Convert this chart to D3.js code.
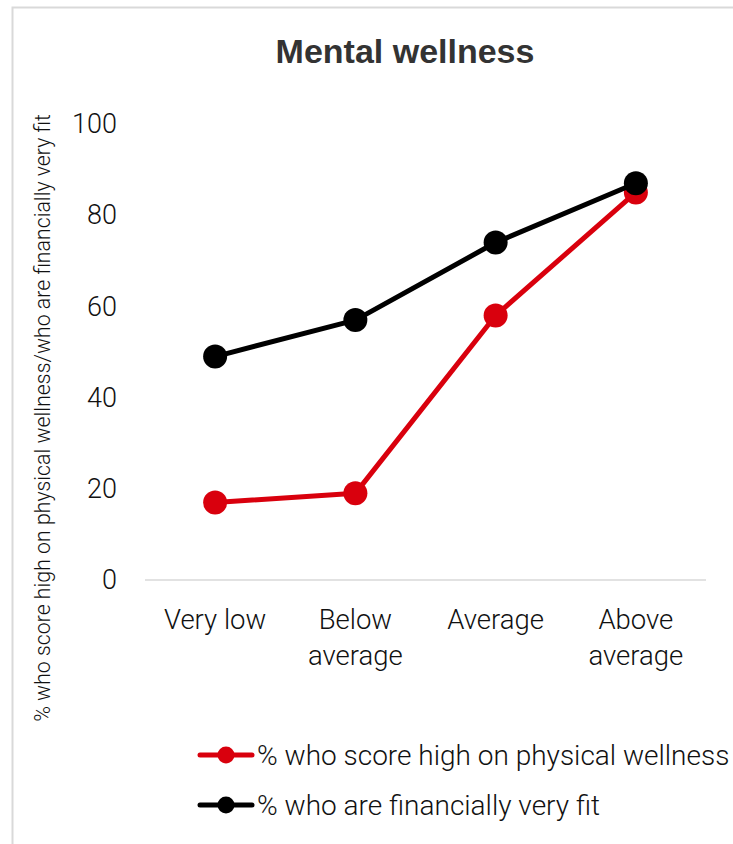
<!DOCTYPE html>
<html>
<head>
<meta charset="utf-8">
<script src="https://cdn.jsdelivr.net/npm/d3@7"></script>
<style>
  html, body { margin: 0; padding: 0; background: #fff; }
  svg { display: block; }
</style>
</head>
<body>
<svg id="chart" width="733" height="844"></svg>
<script>
// Categories on the x axis (multi-line labels split with "\n")
const categories = ["Very low", "Below\naverage", "Average", "Above\naverage"];
// % who score high on physical wellness
const physicalValues = [17, 19, 58, 85];
// % who are financially very fit
const financialValues = [49, 57, 74, 87];
const yTicks = [0, 20, 40, 60, 80, 100];
const seriesNames = ["% who score high on physical wellness", "% who are financially very fit"];
const seriesColors = ["#d9000d", "#000000"];

const svg = d3.select("#chart");
const lightFont = "Roboto, 'Liberation Sans', sans-serif";

// Outer frame
svg.append("rect")
  .attr("x", 12.5).attr("y", 7.5)
  .attr("width", 760).attr("height", 860)
  .attr("fill", "none").attr("stroke", "#d9d9d9").attr("stroke-width", 2);

// Title
svg.append("text")
  .attr("x", 405).attr("y", 63)
  .attr("text-anchor", "middle")
  .style("font-family", "'Liberation Sans Narrow', 'Liberation Sans', sans-serif")
  .style("font-weight", "bold")
  .style("font-size", "34px")
  .attr("fill", "#333333")
  .text("Mental wellness");

const plot = { left: 145, right: 706, top: 124, bottom: 580 };

const x = d3.scaleBand().domain(categories).range([plot.left, plot.right]);
const y = d3.scaleLinear().domain([0, 100]).range([plot.bottom, plot.top]);

// Y axis (labels only)
const yAxis = svg.append("g")
  .attr("transform", `translate(${plot.left},0)`)
  .call(d3.axisLeft(y).tickValues(yTicks).tickSize(0).tickPadding(28));
yAxis.select(".domain").remove();
yAxis.selectAll("text")
  .style("font-family", lightFont).style("font-weight", 300)
  .style("font-size", "27px").attr("fill", "#111");

// X axis baseline
svg.append("line")
  .attr("x1", plot.left).attr("x2", plot.right)
  .attr("y1", y(0)).attr("y2", y(0))
  .attr("stroke", "#d9d9d9").attr("stroke-width", 1.5);

// X category labels
const xLabels = svg.append("g").selectAll("text")
  .data(categories).join("text")
  .attr("x", d => x(d) + x.bandwidth() / 2)
  .attr("y", 629)
  .attr("text-anchor", "middle")
  .style("font-family", lightFont).style("font-weight", 300)
  .style("font-size", "27.5px").attr("fill", "#111");
xLabels.each(function(d) {
  const t = d3.select(this);
  d.split("\n").forEach((line, i) => {
    t.append("tspan").attr("x", x(d) + x.bandwidth() / 2)
      .attr("dy", i === 0 ? 0 : 36).text(line);
  });
});

// Y axis title
svg.append("text")
  .attr("transform", "translate(50,418) rotate(-90)")
  .attr("text-anchor", "middle")
  .style("font-family", lightFont).style("font-weight", 300)
  .style("font-size", "21.3px").attr("fill", "#111")
  .text("% who score high on physical wellness/who are financially very fit");

// Series lines and markers
const series = [physicalValues, financialValues];
const line = d3.line()
  .x((d, i) => x(categories[i]) + x.bandwidth() / 2)
  .y(d => y(d));

series.forEach((vals, s) => {
  svg.append("path")
    .datum(vals)
    .attr("d", line)
    .attr("fill", "none")
    .attr("stroke", seriesColors[s])
    .attr("stroke-width", 5)
    .attr("stroke-linejoin", "round");
  svg.append("g").selectAll("circle")
    .data(vals).join("circle")
    .attr("cx", (d, i) => x(categories[i]) + x.bandwidth() / 2)
    .attr("cy", d => y(d))
    .attr("r", 12)
    .attr("fill", seriesColors[s]);
});

// Legend
const legend = svg.append("g");
seriesNames.forEach((name, i) => {
  const ly = 755 + i * 50;
  legend.append("line")
    .attr("x1", 200).attr("x2", 252).attr("y1", ly).attr("y2", ly)
    .attr("stroke", seriesColors[i]).attr("stroke-width", 5).attr("stroke-linecap", "round");
  legend.append("circle").attr("cx", 226).attr("cy", ly).attr("r", 8.5)
    .attr("fill", seriesColors[i]);
  legend.append("text")
    .attr("x", 257).attr("y", ly + 9.5)
    .style("font-family", lightFont).style("font-weight", 300)
    .style("font-size", "28px").attr("fill", "#111")
    .text(name);
});
</script>
</body>
</html>
